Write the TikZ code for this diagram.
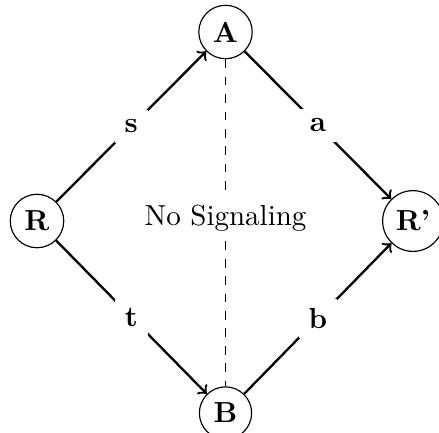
\documentclass[tikz,border=0pt]{standalone}
\usetikzlibrary{arrows}
\begin{document}
\begin{tikzpicture}[x=0.3448pt,y=-0.3448pt,
  state/.style={circle,draw,font=\bfseries,inner sep=2.6pt},
  lbl/.style={fill=white,font=\bfseries,midway},
  arr/.style={->,thick}]
\useasboundingbox (0,0) rectangle (439,432);
\node[state] (A) at (225.5,32) {A};
\node[state] (B) at (225.5,413) {B};
\node[state] (R) at (37,221) {R};
\node[state] (Rp) at (413,221) {R'};
\node[fill=white] (ns) at (225.5,218) {No Signaling};
\draw[dashed] (A) -- (ns);
\draw[dashed] (ns) -- (B);
\draw[arr] (R) -- node[lbl] {s} (A);
\draw[arr] (R) -- node[lbl] {t} (B);
\draw[arr] (A) -- node[lbl] {a} (Rp);
\draw[arr] (B) -- node[lbl] {b} (Rp);
\end{tikzpicture}
\end{document}
